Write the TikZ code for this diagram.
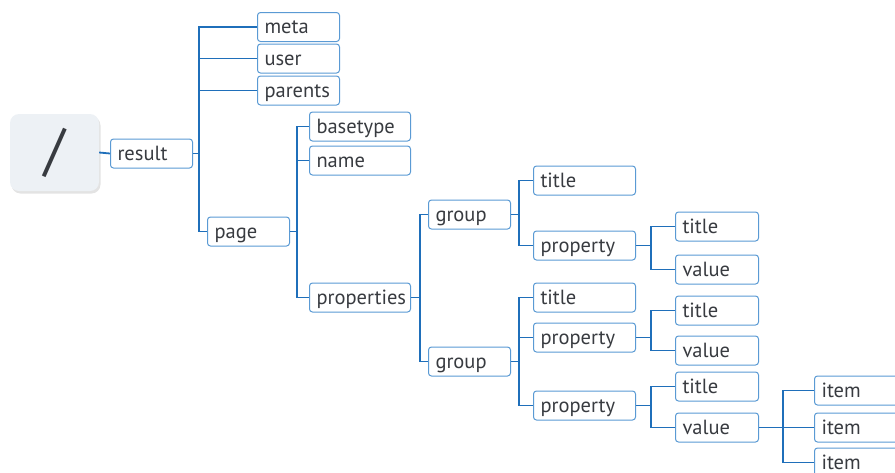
\documentclass[tikz,border=0pt]{standalone}
\usepackage{fontspec}
\setmainfont{PT Sans}
\usepackage{xcolor}
\usepackage{tikz}
\usetikzlibrary{shadows}
\definecolor{linecolor}{HTML}{1F6FBA}
\definecolor{boxcolor}{HTML}{5A9AD4}
\definecolor{textcolor}{HTML}{383B40}
\definecolor{rootcolor}{HTML}{EDF1F5}

\tikzset{
  box/.style={draw=boxcolor,fill=white,rounded corners=3pt,line width=1pt,
              minimum height=29,inner xsep=7,inner ysep=0,anchor=west,
              text height=16.5,text depth=3,
              align=left,text=textcolor,font=\fontsize{20.5}{23}\selectfont},
  conn/.style={draw=linecolor,line width=1.8pt}
}

\begin{document}
\begin{tikzpicture}[x=1pt,y=-1pt]
  \useasboundingbox (0,0) rectangle (895,472);

  \node[fill=rootcolor,rounded corners=9pt,minimum width=89,minimum height=77,
        drop shadow={opacity=0.22,shadow xshift=1.5pt,shadow yshift=-2.5pt},
        text=textcolor,font=\fontsize{58}{58}\selectfont] (root) at (54.5,152.5) {/};

  \foreach \n/\x/\y/\w/\t in {result/110/153.5/82/result,
      meta/257/27/82/meta, user/257/58.5/82/user, parents/257/90.5/82/parents,
      page/207/231.5/82/page,
      basetype/309/126.5/101/basetype, name/309/160.5/101/name,
      props/309/297.5/101/properties,
      groupA/428/214.5/82/group, groupB/428/361.5/82/group,
      titleA/533/180.5/102/title, propA/533/245.5/102/property,
      titleB/533/297.5/102/title, propB/533/337.5/102/property,
      propC/533/405.5/102/property,
      ptitleA/675/226.5/83/title, valueA/675/269.5/83/value,
      ptitleB/675/310.5/83/title, valueB/675/350.5/83/value,
      ptitleC/675/386.5/83/title, valueC/675/427.5/83/value,
      itemA/814/390.5/90/item, itemB/814/427.5/90/item, itemC/814/462.5/90/item} {
    \node[box,text width={\w-14}] (\n) at (\x,\y) {\t};
  }

  \draw[conn] (root.east) -- (result.west);
  \foreach \p/\k/\cs in {result/199/{meta,user,parents,page},
      page/297/{basetype,name,props}, props/420/{groupA,groupB},
      groupA/519/{titleA,propA}, groupB/519/{titleB,propB,propC},
      propA/651/{ptitleA,valueA}, propB/651/{ptitleB,valueB},
      propC/651/{ptitleC,valueC}, valueC/783/{itemA,itemB,itemC}} {
    \coordinate (trunk) at (\k,0);
    \foreach \c in \cs
      \draw[conn] (\p.east) -- (\p.east -| trunk) |- (\c.west);
  }
\end{tikzpicture}
\end{document}
